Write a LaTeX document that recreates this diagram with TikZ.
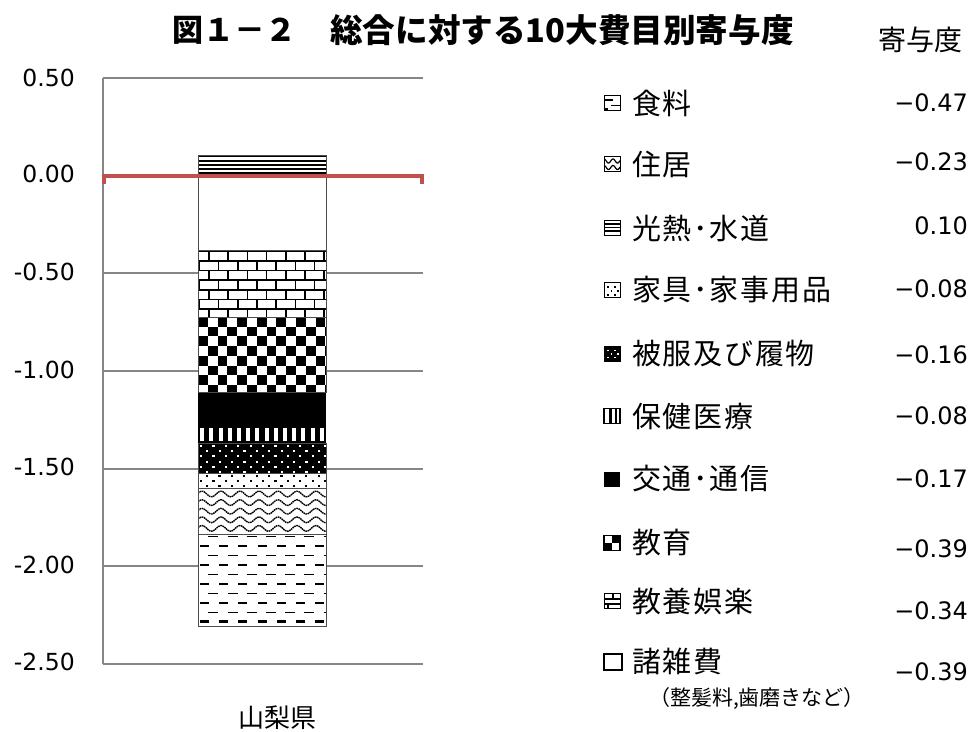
\documentclass[tikz,border=0pt]{standalone}
\usepackage{fontspec}
\newfontfamily\jp[LetterSpace=6]{Noto Sans CJK JP}
\newfontfamily\jpt{Noto Sans CJK JP}
\newfontfamily\dv{DejaVu Sans}
\definecolor{gridgray}{HTML}{868686}
\definecolor{axred}{HTML}{C0504D}
\tikzset{
  gridline/.style={draw=gridgray, line width=2},
  segline/.style={draw=gray!60!black, line width=0.8},
  ylab/.style={anchor=east, inner sep=0, font=\dv\fontsize{23.5}{26}\selectfont},
  vallab/.style={anchor=east, inner sep=0, font=\dv\fontsize{24}{26}\selectfont},
  leglab/.style={anchor=west, inner sep=0, font=\jp\fontsize{29}{32}\selectfont},
  icon/.style={draw=black, line width=0.9},
}
\begin{document}
\begin{tikzpicture}[x=1pt,y=-1pt]
\useasboundingbox (0,0) rectangle (980,731);
\fill[white] (0,0) rectangle (980,731);

% ---------- grid and axis ----------
\foreach \yy in {78,273.3,370.9,468.5,566,663.6}
  \draw[gridline] (103,\yy) -- (423,\yy);
\draw[gridline] (103,78) -- (103,663.6);

% ---------- y labels ----------
\node[ylab] (y1) at (75,77.5) {0.50};
\node[ylab] (y2) at (75,174) {0.00};
\node[ylab] (y3) at (75,272) {-0.50};
\node[ylab] (y4) at (75,370) {-1.00};
\node[ylab] (y5) at (75,467) {-1.50};
\node[ylab] (y6) at (75,565) {-2.00};
\node[ylab] (y7) at (75,662) {-2.50};

% ---------- bar segments ----------
\def\bl{198}\def\br{326}
% 光熱・水道 : horizontal lines
\fill[white] (\bl,155.5) rectangle (\br,176);
\begin{scope}
\clip (\bl,155.5) rectangle (\br,176);
\foreach \yy in {156.5,160.6,164.7,168.8,172.9}
  \draw[line width=1.9] (\bl,\yy) -- (\br,\yy);
\end{scope}
\draw[segline] (\bl,155.5) rectangle (\br,176);

% 諸雑費 : white
\fill[white] (\bl,176) rectangle (\br,250.5);
\draw[segline] (\bl,176) rectangle (\br,250.5);

% 教養娯楽 : bricks
\fill[white] (\bl,250.5) rectangle (\br,317);
\begin{scope}
\clip (\bl,250.5) rectangle (\br,317);
\foreach \r in {0,...,6} {
  \pgfmathsetmacro\yt{251.2+9.65*\r}
  \pgfmathsetmacro\off{mod(\r,2)==0 ? 11 : 1.4}
  \draw[line width=1.7] (\bl,\yt) -- (\br,\yt);
  \foreach \j in {0,...,7}
    \draw[line width=1.7] ({\bl+\off+19.2*\j},\yt) -- ++(0,9.65);
}
\end{scope}
\draw[segline] (\bl,250.5) rectangle (\br,317);

% 教育 : checkerboard
\fill[white] (\bl,317) rectangle (\br,392.5);
\begin{scope}
\clip (\bl,317) rectangle (\br,392.5);
\foreach \i in {0,...,13} \foreach \j in {0,...,7} {
  \pgfmathparse{int(mod(\i+\j,2))}
  \ifnum\pgfmathresult=0 \fill ({\bl+9.8*\i},{317+9.7*\j}) rectangle ++(9.8,9.7); \fi
}
\end{scope}
\draw[segline] (\bl,317) rectangle (\br,392.5);

% 交通・通信 : black
\fill (\bl,392.5) rectangle (\br,425.5);

% 保健医療 : vertical bars
\fill (\bl,425.5) rectangle (\br,443);
\begin{scope}
\clip (\bl,425.5) rectangle (\br,443);
\foreach \j in {0,...,13}
  \fill[white] ({\bl+2.2+9.2*\j},427.6) rectangle ++(4,13.8);
\end{scope}

% 被服及び履物 : black with white dots
\fill (\bl,443) rectangle (\br,473.5);
\begin{scope}
\clip (\bl,443) rectangle (\br,473.5);
\foreach \r in {0,...,5} {
  \pgfmathsetmacro\yt{444.6+5.3*\r}
  \pgfmathsetmacro\off{mod(\r,2)==0 ? 2 : 8.2}
  \foreach \j in {0,...,10}
    \fill[white] ({\bl+\off+12.4*\j},\yt) rectangle ++(2.2,2.2);
}
\end{scope}
\draw[segline] (\bl,443) rectangle (\br,473.5);

% 家具・家事用品 : white with black dots
\fill[white] (\bl,473.5) rectangle (\br,488.5);
\begin{scope}
\clip (\bl,473.5) rectangle (\br,488.5);
\foreach \r in {0,1,2} {
  \pgfmathsetmacro\yt{475+5*\r}
  \pgfmathsetmacro\off{mod(\r,2)==0 ? 8 : 2}
  \foreach \j in {0,...,10}
    \fill ({\bl+\off+12.4*\j},\yt) rectangle ++(2.2,2.2);
}
\end{scope}
\draw[segline] (\bl,473.5) rectangle (\br,488.5);

% 住居 : waves
\fill[white] (\bl,488.5) rectangle (\br,534);
\begin{scope}
\clip (\bl,488.5) rectangle (\br,534);
\foreach \r in {0,...,4} {
  \pgfmathsetmacro\yc{494+8.6*\r}
  \draw[line width=1.4, dash pattern=on 1.6pt off 0.6pt]
    plot[domain=0:128, samples=120, smooth] ({\bl+\x},{\yc-2.8*cos(18.947*(\x-4))});
}
\end{scope}
\draw[segline] (\bl,488.5) rectangle (\br,534);

% 食料 : dashes
\fill[white] (\bl,534) rectangle (\br,626);
\begin{scope}
\clip (\bl,534) rectangle (\br,626);
\foreach \r in {0,...,4} {
  \pgfmathsetmacro\ya{536.5+18.9*\r}
  \pgfmathsetmacro\yb{545.9+18.9*\r}
  \foreach \j in {0,...,6} {
    \draw[line width=1.1] ({\bl+10.3+19.2*\j},\ya) -- ++(10,0);
    \draw[line width=2.1] ({\bl+2+19.2*\j},\yb) -- ++(9,0);
  }
}
\end{scope}
\draw[segline] (\bl,534) rectangle (\br,626);

% ---------- zero line ----------
\draw[axred, line width=3.4] (104,183.5) -- (104,176) -- (422,176) -- (422,183.5);

% ---------- category label ----------
\node[anchor=center, inner sep=0, font=\jpt\fontsize{26}{28}\selectfont] (cat) at (277,718) {山梨県};

% ---------- title ----------
\node[anchor=west, inner sep=0, font=\jpt\bfseries\fontsize{31}{33}\selectfont] (t1) at (172,30) {図１－２};
\node[anchor=west, inner sep=0, font=\jpt\bfseries\fontsize{32.6}{34}\selectfont] (t2) at (330,30) {総合に対する10大費目別寄与度};
\node[anchor=center, inner sep=0, font=\jpt\fontsize{28}{30}\selectfont] (t3) at (920,40) {寄与度};

% ---------- legend icons ----------
% 食料
\begin{scope}[shift={(604,103)}]
  \fill[white] (0,-7.5) rectangle (16,7.5);
  \draw[line width=2] (0.5,-3) -- (9,-3);
  \draw[line width=1] (7,2.5) -- (16,2.5);
  \draw[line width=2] (0.5,6) -- (4,6);
  \draw[icon] (0,-7.5) rectangle (16,7.5);
\end{scope}
% 住居
\begin{scope}[shift={(604,164)}]
  \begin{scope}
  \clip (0,-7.5) rectangle (16,7.5);
  \foreach \yc in {-3,3.5}
    \draw[line width=1.2] plot[domain=0:16, samples=40, smooth] (\x,{\yc-2*cos(40*\x)});
  \end{scope}
  \draw[icon] (0,-7.5) rectangle (16,7.5);
\end{scope}
% 光熱・水道
\begin{scope}[shift={(604,228)}]
  \foreach \yy in {-4,-0.5,3}
    \draw[line width=1.6] (0,\yy) -- (16,\yy);
  \draw[icon] (0,-7.5) rectangle (16,7.5);
\end{scope}
% 家具・家事用品
\begin{scope}[shift={(604,290)}]
  \foreach \p in {(3,-4),(10,-4),(6.5,0),(13,0),(3,4),(10,4)}
    \fill \p rectangle ++(1.8,1.8);
  \draw[icon] (0,-7.5) rectangle (16,7.5);
\end{scope}
% 被服及び履物
\begin{scope}[shift={(604,354)}]
  \fill (0,-7.5) rectangle (16,7.5);
  \foreach \p in {(3,-4.5),(10,-4.5),(6.5,-1),(13,-1),(3,2.5),(10,2.5)}
    \fill[white] \p rectangle ++(1.8,1.8);
  \draw[icon] (0,-7.5) rectangle (16,7.5);
\end{scope}
% 保健医療
\begin{scope}[shift={(604,416)}]
  \fill[white] (0,-7.5) rectangle (16,7.5);
  \fill (5,-7.5) rectangle (7.5,7.5);
  \fill (10.5,-7.5) rectangle (13,7.5);
  \draw[icon, line width=1.4] (0,-7.5) rectangle (16,7.5);
\end{scope}
% 交通・通信
\begin{scope}[shift={(604,479)}]
  \fill (0,-7.5) rectangle (16,7.5);
\end{scope}
% 教育
\begin{scope}[shift={(604,543)}]
  \fill[white] (0,-7.5) rectangle (16,7.5);
  \fill (8,-7.5) rectangle (16,0);
  \fill (0,0) rectangle (8,7.5);
  \draw[icon, line width=1.4] (0,-7.5) rectangle (16,7.5);
\end{scope}
% 教養娯楽
\begin{scope}[shift={(604,601)}]
  \fill[white] (0,-7.5) rectangle (16,7.5);
  \draw[line width=1.4] (0,-2) -- (16,-2);
  \draw[line width=1.4] (0,3) -- (16,3);
  \draw[line width=1.4] (9,-7.5) -- (9,-2);
  \draw[line width=1.4] (4,3) -- (4,7.5);
  \draw[icon] (0,-7.5) rectangle (16,7.5);
\end{scope}
% 諸雑費
\begin{scope}[shift={(604,662)}]
  \draw[icon, line width=1.1] (0,-8) rectangle (18,8);
\end{scope}

% ---------- legend labels ----------
\node[leglab] (l1) at (632,103) {食料};
\node[leglab] (l2) at (632,164) {住居};
\node[leglab] (l3) at (632,228) {光熱･水道};
\node[leglab] (l4) at (632,290) {家具･家事用品};
\node[leglab] (l5) at (632,354) {被服及び履物};
\node[leglab] (l6) at (632,416) {保健医療};
\node[leglab] (l7) at (632,479) {交通･通信};
\node[leglab] (l8) at (632,543) {教育};
\node[leglab] (l9) at (632,601) {教養娯楽};
\node[leglab] (l10) at (632,661) {諸雑費};
\node[anchor=center, inner sep=0, font=\jpt\fontsize{21}{23}\selectfont] (l10b) at (757,698) {（整髪料,歯磨きなど）};

% ---------- values ----------
\node[vallab] (v1) at (968,103) {−0.47};
\node[vallab] (v2) at (968,162) {−0.23};
\node[vallab] (v3) at (968,226) {0.10};
\node[vallab] (v4) at (968,289) {−0.08};
\node[vallab] (v5) at (968,355) {−0.16};
\node[vallab] (v6) at (968,416) {−0.08};
\node[vallab] (v7) at (968,479) {−0.17};
\node[vallab] (v8) at (968,549) {−0.39};
\node[vallab] (v9) at (968,611) {−0.34};
\node[vallab] (v10) at (968,672) {−0.39};
\end{tikzpicture}
\end{document}
